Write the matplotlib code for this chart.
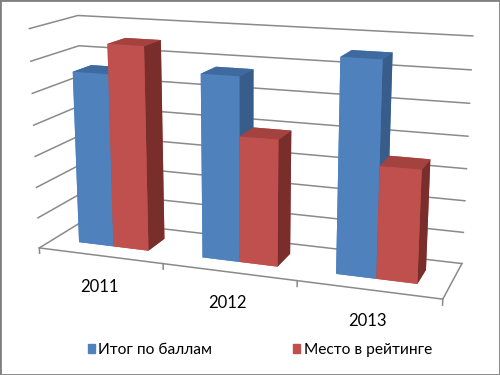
import matplotlib
matplotlib.use('Agg')
import matplotlib.pyplot as plt
import numpy as np
from matplotlib.patches import Patch, Rectangle
from mpl_toolkits.mplot3d import proj3d

years = ['2011', '2012', '2013']
series_names = ['Итог по баллам', 'Место в рейтинге']
itog = [5.57, 5.78, 6.54]
mesto = [6.51, 3.96, 3.44]
zmax = 7
grid_levels = list(range(0, 8))

# face colours: bottom, top, front, back, left, right
blue_faces = ['#4F81BD', '#3F6A9F', '#4F81BD', '#4F81BD', '#4F81BD', '#385D8A']
red_faces = ['#C0504D', '#A4423F', '#C0504D', '#C0504D', '#C0504D', '#7A2E2C']

fig = plt.figure(figsize=(5, 3.75), dpi=100)
ax = fig.add_axes([0.00215, -0.04541, 0.95598, 1.27463], projection='3d',
                  computed_zorder=False)
ax.set_proj_type('persp', focal_length=0.452)
ax.view_init(elev=14.15, azim=-70.09)

w = 1 / 3.5          # bar width (gap width 150 %)
D = 2.5 * w          # floor depth (gap depth 150 %)
ax.set_box_aspect((3, 0.7263, 1.633))
ax.set_xlim(0, 3)
ax.set_ylim(0, D)
ax.set_zlim(0, zmax)
ax.set_axis_off()

gc = '#8A8A8A'
for z in grid_levels:
    ax.plot([0, 0, 3], [0, D, D], [z, z, z], color=gc, lw=1.1, zorder=1)
ax.plot([0, 3, 3], [0, 0, D], [0, 0, 0], color=gc, lw=1.1, zorder=1)
for xt in range(len(years) + 1):
    ax.plot([xt, xt], [0, 0], [0, -0.18], color=gc, lw=1.1, zorder=1)

n = len(years)
xs, ys, dxs, dys, dzs, cols = [], [], [], [], [], []
for i in range(n):
    for j, (vals, fc) in enumerate([(itog, blue_faces), (mesto, red_faces)]):
        xs.append(i + 0.75 * w + j * w)
        ys.append(0.75 * w)
        dxs.append(w)
        dys.append(w)
        dzs.append(vals[i])
        cols.extend(fc)
ax.bar3d(xs, ys, np.zeros(len(xs)), dxs, dys, dzs, color=cols, shade=False,
         edgecolor='none', zorder=2)

# category labels placed below the projected front edge of the floor
M = ax.get_proj()
lx, ly, _ = proj3d.proj_transform(np.arange(n) + 0.5, np.zeros(n), np.zeros(n), M)
for i, yr in enumerate(years):
    ax.annotate(yr, xy=(lx[i], ly[i]), xycoords='data', xytext=(-1, -31),
                textcoords='offset pixels', ha='center', va='center',
                fontsize=12, family='Lato', color='black', annotation_clip=False)

handles = [Patch(color='#4F81BD'), Patch(color='#C0504D')]
fig.legend(handles, series_names, loc='center', bbox_to_anchor=(0.52, 0.067),
           ncol=2, frameon=False, prop={'family': 'Lato', 'size': 11.2},
           handlelength=0.45, handleheight=0.45, handletextpad=0.25,
           columnspacing=5.2, borderaxespad=0)

fig.patches.append(Rectangle((0, 0), 1, 1, transform=fig.transFigure, fill=False,
                             edgecolor='#808080', lw=2))
fig.savefig('out.png', dpi=100)
